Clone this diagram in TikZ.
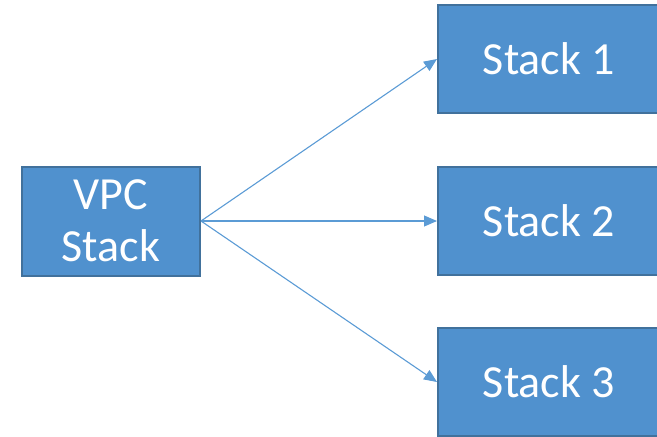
\documentclass[tikz,border=0pt]{standalone}
\usepackage{fontspec}
\setmainfont{Carlito}
\usetikzlibrary{arrows.meta}
\definecolor{boxfill}{RGB}{80,145,206}
\definecolor{boxline}{RGB}{65,113,156}
\definecolor{arrowc}{RGB}{91,155,213}
\begin{document}
\begin{tikzpicture}[x=1pt,y=-1pt,
  stackbox/.style={draw=boxline,line width=2pt,fill=boxfill,text=white,
    font=\fontsize{46}{52}\selectfont,inner sep=0pt,align=center},
  conn/.style={draw=arrowc,line width=1.1pt,-{Triangle[length=13pt,width=11pt]}}]
\useasboundingbox (0,0) rectangle (657,437);
\begin{scope}
\clip (0,0) rectangle (657,437);
\node[stackbox,minimum width=178pt,minimum height=109pt] (vpc) at (111,221) {VPC\\Stack};
\node[stackbox,minimum width=228pt,minimum height=108pt,anchor=west] (s1) at (437,59) {\hspace*{-6pt}Stack 1};
\node[stackbox,minimum width=228pt,minimum height=108pt,anchor=west] (s2) at (437,221) {\hspace*{-6pt}Stack 2};
\node[stackbox,minimum width=228pt,minimum height=108pt,anchor=west] (s3) at (437,382) {\hspace*{-6pt}Stack 3};
\end{scope}
\draw[conn] (vpc.east) -- (s1.west);
\draw[conn] (vpc.east) -- (s2.west);
\draw[conn] (vpc.east) -- (s3.west);
\end{tikzpicture}
\end{document}
